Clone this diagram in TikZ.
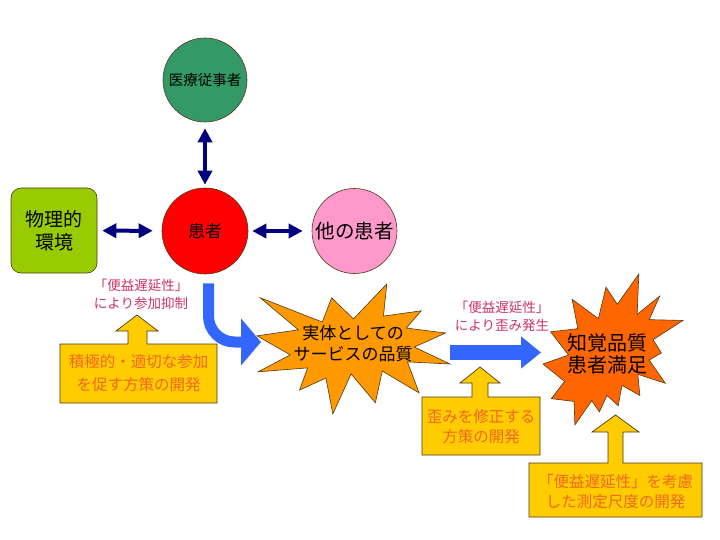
\documentclass[tikz,border=0pt]{standalone}
\usepackage{fontspec}
\usetikzlibrary{arrows.meta}
\newfontfamily\jp{Noto Sans CJK JP}

\definecolor{staffgreen}{HTML}{339966}
\definecolor{envgreen}{HTML}{99CC00}
\definecolor{otherpink}{HTML}{FF99CC}
\definecolor{navyarrow}{HTML}{000080}
\definecolor{flowblue}{HTML}{3366FF}
\definecolor{burst1}{HTML}{FF9900}
\definecolor{burst2}{HTML}{FF6600}
\definecolor{callyellow}{HTML}{FFCC00}
\definecolor{calltext}{HTML}{F06820}
\definecolor{delayred}{HTML}{CC3366}
\definecolor{edgegray}{HTML}{503818}

\tikzset{
  actor/.style = {circle, draw=edgegray, line width=0.6pt, minimum size=#1, inner sep=0pt},
  dblarrow/.style = {{Triangle[width=14pt,length=14pt]}-{Triangle[width=14pt,length=14pt]}, navyarrow, line width=4pt},
  flowarrow/.style = {-{Triangle[width=#1,length=20pt]}, flowblue, line width=13pt},
  callbox/.style = {fill=callyellow, draw=edgegray, line width=0.7pt},
  calltxt/.style = {align=center, text=calltext, font=\jp\fontsize{15.5}{20}\selectfont},
  delaytxt/.style = {align=center, text=delayred, inner sep=0pt, font=\jp\fontsize{13.5}{18}\selectfont},
  bursttxt/.style = {align=center, inner sep=0pt}
}

\begin{document}
\begin{tikzpicture}[x=1pt, y=-1pt]
\useasboundingbox (0,0) rectangle (720,540);

% the patient and the people/things around
\node[actor=84pt, fill=staffgreen, font=\jp\fontsize{14.5}{16}\selectfont] (staff) at (205,80) {医療従事者};
\node[actor=86pt, fill=red, font=\jp\fontsize{17}{20}\selectfont] (kanja) at (205,231) {患者};
\node[actor=85pt, fill=otherpink, font=\jp\fontsize{19.5}{22}\selectfont] (others) at (354.5,231) {他の患者};
\node[draw=edgegray, line width=0.6pt, fill=envgreen, rounded corners=10pt, minimum width=86pt, minimum height=85pt,
      align=center, font=\jp\fontsize{19}{23}\selectfont] (env) at (54,230.5) {物理的\\環境};

\draw[dblarrow, shorten <=6pt, shorten >=3pt] (staff) -- (kanja); %staff to patient
\draw[dblarrow, shorten <=5pt, shorten >=9pt] (env) -- (kanja); %env to patient
\draw[dblarrow, shorten <=4pt, shorten >=9pt] (kanja) -- (others); %patient to others

% explosion 1 : quality of the service itself
\begin{scope}[shift={(257,284)}, xscale=0.8935, yscale=0.6019]
\filldraw[fill=burst1, draw=edgegray, line width=0.6pt] (108,58) -- (145.22,0) -- (141.55,53.25) -- (183.8,44.57)
  -- (167.02,73.15) -- (210.97,81.37) -- (176.07,104.75) -- (216,132.9) -- (168.37,129.42) -- (181.45,180.95)
  -- (140.2,144.57) -- (132.47,197.37) -- (105.32,149.35) -- (84.85,216) -- (77.15,156.27) -- (47.62,176.17)
  -- (56.67,139.37) -- (1.35,145.87) -- (37.22,117.75) -- (0,86.15) -- (46.27,76.17) -- (3.7,22.95)
  -- (73.12,63.2) -- (83.52,22.95) -- cycle;
\end{scope}
\node[bursttxt, font=\jp\fontsize{17}{21}\selectfont] (real) at (353,343.5) {実体としての\\サービスの品質};

% explosion 2 : perceived quality
\begin{scope}[shift={(543,274)}, xscale=0.648, yscale=0.699]
\filldraw[fill=burst2, draw=edgegray, line width=0.6pt] (114.62,43.42) -- (147.9,0) -- (145.25,57.77) -- (180.07,31.72)
  -- (163.8,65.32) -- (216,66.45) -- (169.85,94.02) -- (182.7,112.9) -- (163.8,123.1) -- (188.77,156.32)
  -- (146.4,143.5) -- (149.42,173.7) -- (121.8,159.35) -- (116.12,188.42) -- (98.72,173.7) -- (87,197.12)
  -- (75.27,181.25) -- (49.17,216) -- (48.05,182.4) -- (12.85,178.25) -- (33.3,153.7) -- (0,128.77)
  -- (39.35,115.92) -- (11.72,82.7) -- (53.72,78.17) -- (45.02,36.25) -- (85.5,63.82) -- (97.22,18.87) -- cycle;
\end{scope}
\node[bursttxt, font=\jp\fontsize{20}{22}\selectfont] (percv) at (607,354) {知覚品質\\患者満足};

% blue flow arrows
\coordinate (realin) at (261,342);
\coordinate (realout) at (450,352.5);
\coordinate (percvin) at (541,352.5);
\draw[flowarrow=46pt, line width=11pt, rounded corners=26pt] ([xshift=3.5pt,yshift=-9pt]kanja.south) |- (realin);
\draw[flowarrow=31pt, line width=15pt] (realout) -- (percvin);

\node[delaytxt] (delay1) at (141,294) {「便益遅延性」\\により参加抑制};
\node[delaytxt] (delay2) at (502,316.5) {「便益遅延性」\\により歪み発生};

% yellow up-arrow callouts
\filldraw[callbox] (60,344) -- (128,344) -- (128,331) -- (116,331) -- (137,315) -- (158,331) -- (147,331)
  -- (147,344) -- (217,344) -- (217,403) -- (60,403) -- cycle;
\node[calltxt, font=\jp\fontsize{15.5}{23}\selectfont] (measure1) at (138.5,373.5) {積極的・適切な参加\\を促す方策の開発};

\filldraw[callbox] (422,397) -- (472,397) -- (472,383) -- (460,383) -- (480,367) -- (500,383) -- (488,383)
  -- (488,397) -- (540,397) -- (540,455) -- (422,455) -- cycle;
\node[calltxt] (measure2) at (481,427) {歪みを修正する\\方策の開発};

\filldraw[callbox] (529,463) -- (608,463) -- (608,432) -- (592,432) -- (615.5,415) -- (639,432) -- (623,432)
  -- (623,463) -- (702,463) -- (702,517) -- (529,517) -- cycle;
\node[calltxt] (measure3) at (615.5,492) {「便益遅延性」を考慮\\した測定尺度の開発};
\end{tikzpicture}
\end{document}
